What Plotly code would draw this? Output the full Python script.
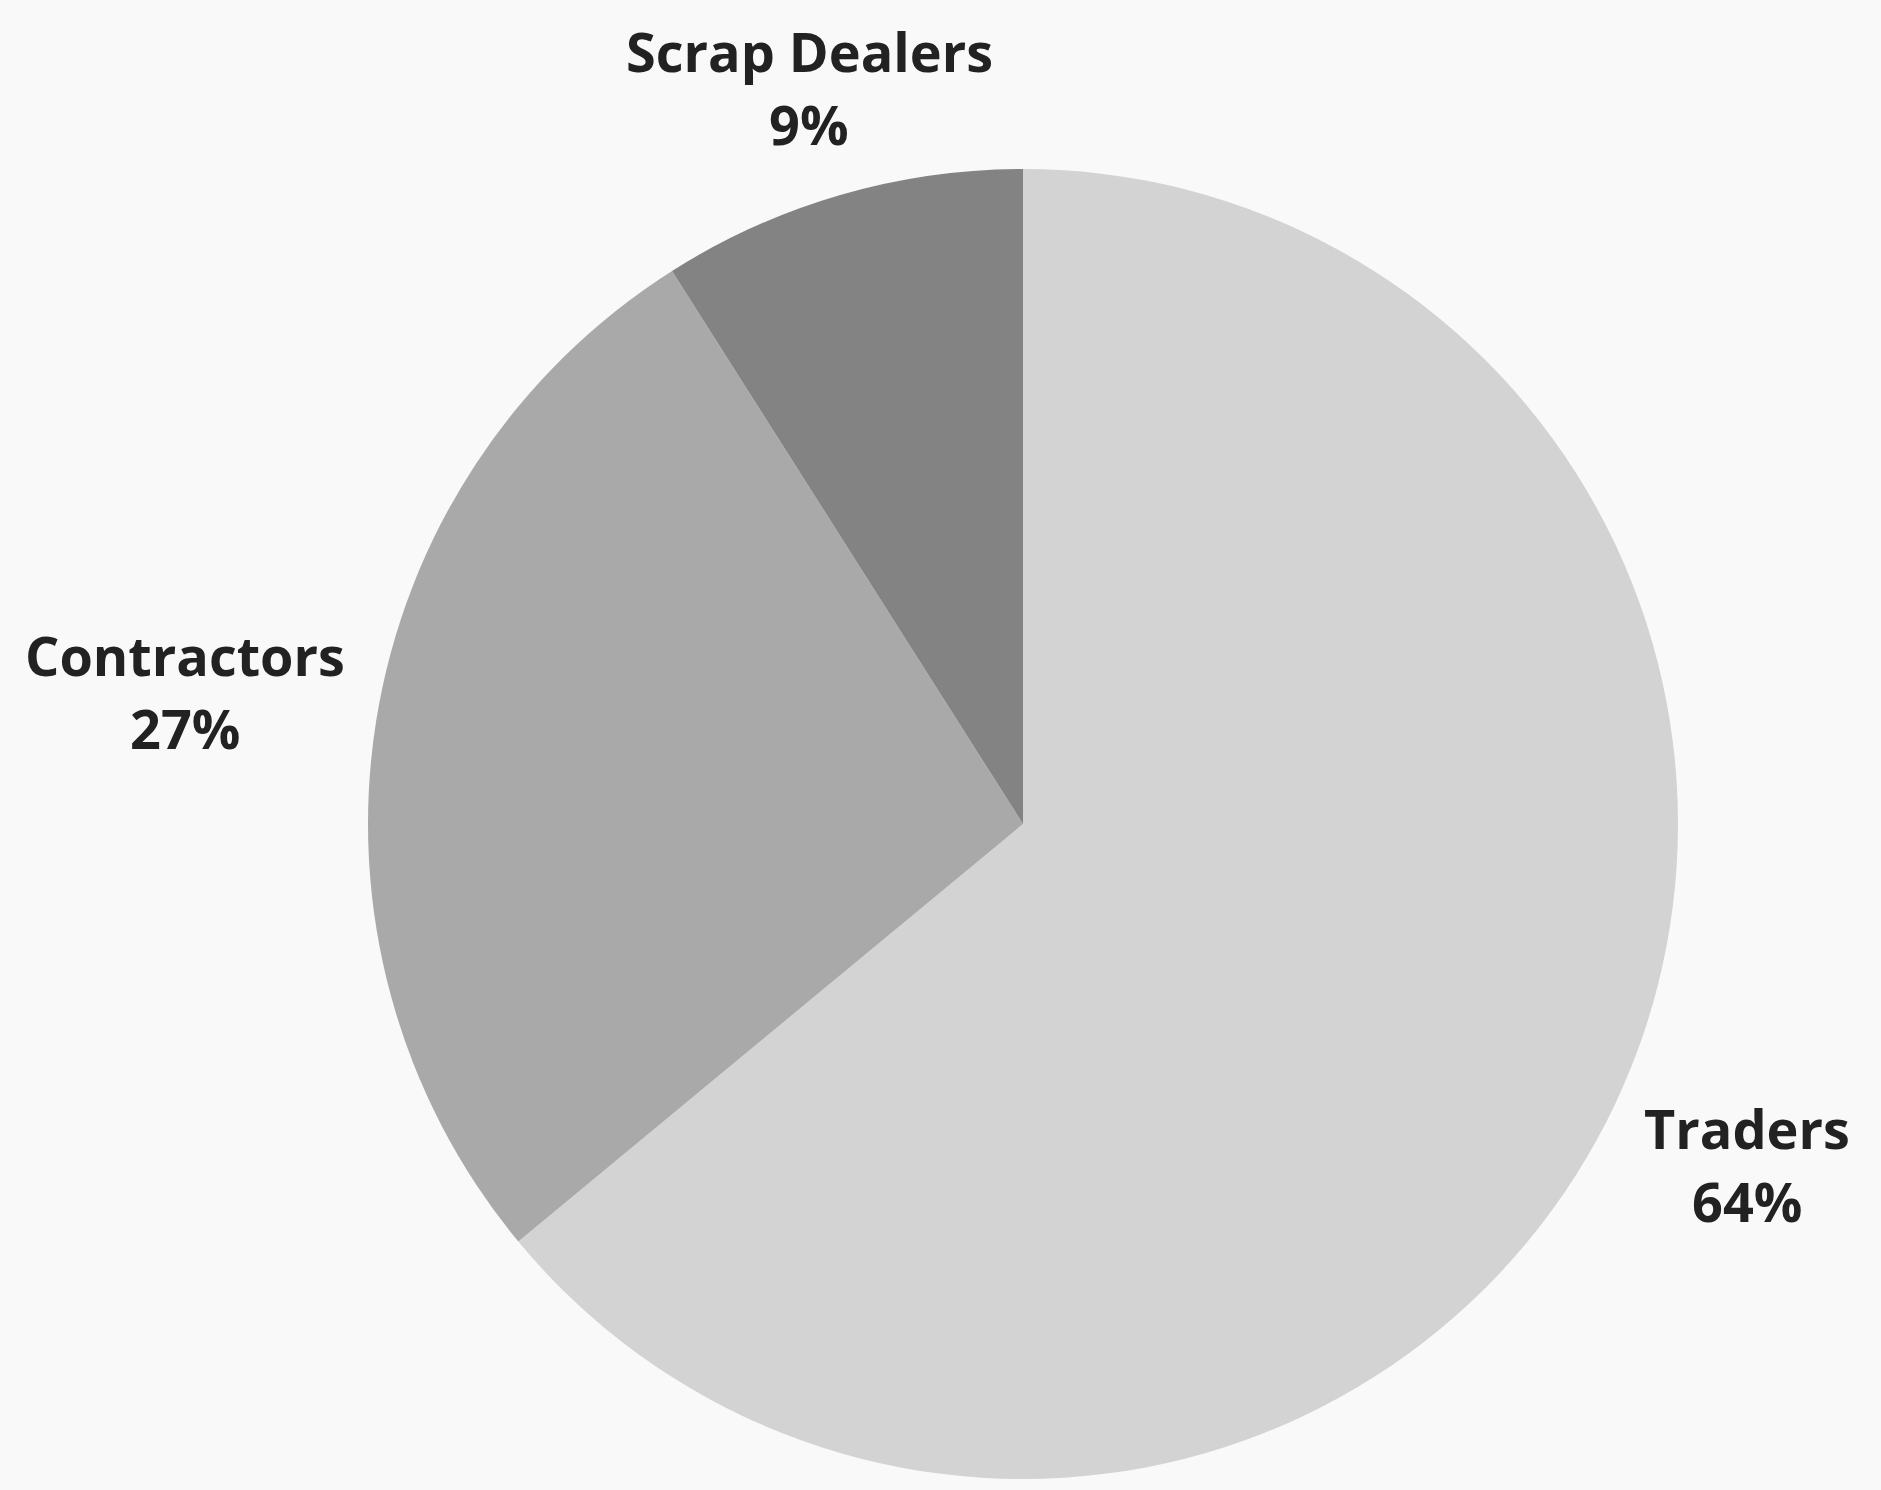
import math
import plotly.graph_objects as go

labels = ["Traders", "Contractors", "Scrap Dealers"]
values = [64, 27, 9]
colors = ["#d3d3d3", "#a9a9a9", "#838383"]

W, H = 1881, 1490
cx, cy, r = 1023, 824, 655
font_px = 54
line_h = 73
offset = 36

fig = go.Figure(go.Pie(
    labels=labels,
    values=values,
    sort=False,
    direction="clockwise",
    rotation=0,
    marker=dict(colors=colors, line=dict(width=0)),
    textinfo="none",
    hoverinfo="label+percent",
    showlegend=False,
    domain=dict(x=[(cx - r) / W, (cx + r) / W], y=[(H - cy - r) / H, (H - cy + r) / H]),
))

total = sum(values)
cum = 0
annotations = []
for lab, v in zip(labels, values):
    mid = (cum + v / 2) / total * 2 * math.pi
    cum += v
    dx, dy = math.sin(mid), -math.cos(mid)
    pct = f"{round(v / total * 100)}%"
    w = max(len(lab), len(pct)) * font_px * 0.522
    h = 2 * line_h
    t = min(w / 2 / max(abs(dx), 1e-9), h / 2 / max(abs(dy), 1e-9))
    dist = r + offset + t
    px = cx + dx * dist
    py = cy + dy * dist
    for txt, ly in ((lab, py - line_h / 2), (pct, py + line_h / 2)):
        annotations.append(dict(
            x=px / W, y=1 - ly / H, xref="paper", yref="paper",
            xanchor="center", yanchor="middle", showarrow=False,
            text=txt, align="center",
            font=dict(family="Open Sans", size=font_px, color="#222222", weight=700),
        ))

fig.update_layout(
    width=W, height=H,
    margin=dict(l=0, r=0, t=0, b=0),
    paper_bgcolor="#f9f9f9",
    plot_bgcolor="#f9f9f9",
    annotations=annotations,
)

fig.write_html("out.html", config={"displayModeBar": False},
               post_script="document.body.style.margin='0px';")
